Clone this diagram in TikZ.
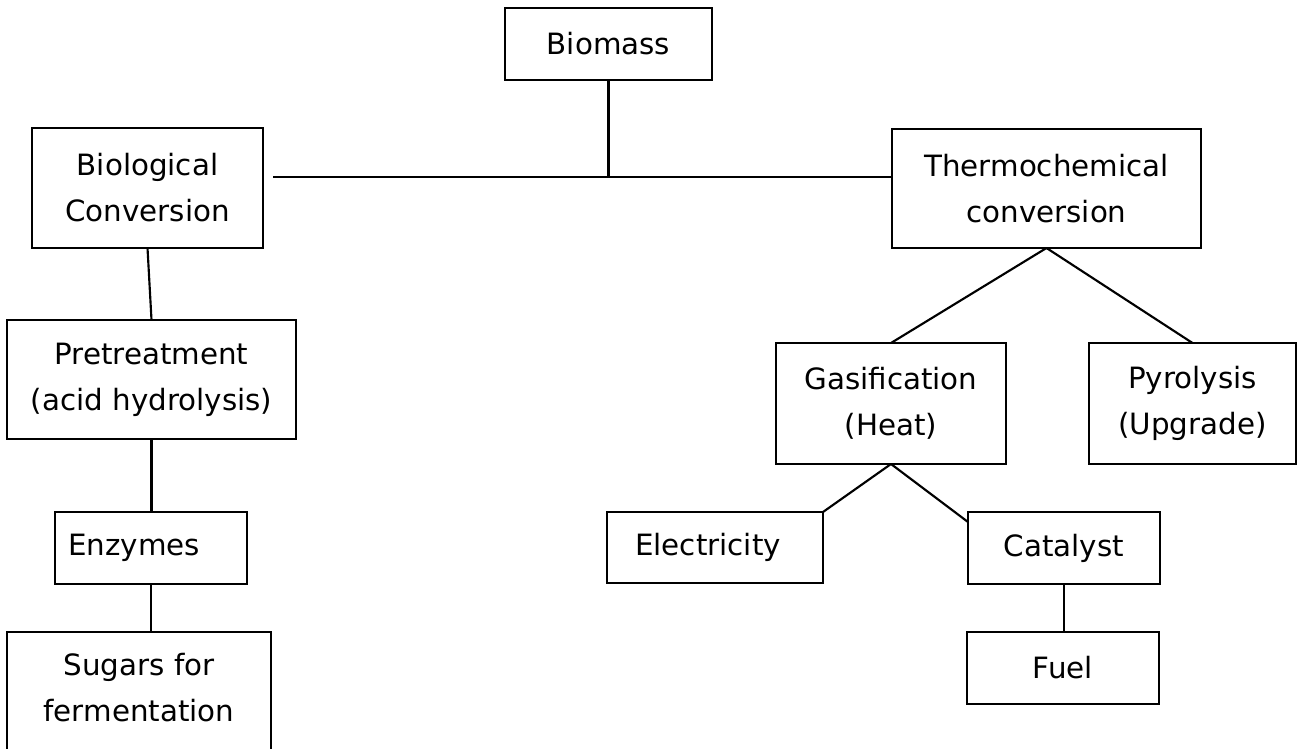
\documentclass[tikz,border=0pt]{standalone}
\usepackage{fontspec}
\setmainfont{DejaVu Sans}
\usetikzlibrary{calc}
\begin{document}
\begin{tikzpicture}[x=0.75pt,y=-0.75pt,
  box/.style={draw, line width=2.1pt, inner sep=0pt, outer sep=0pt, align=center,
    font=\fontsize{22}{34.5}\selectfont},
  link/.style={line width=1.6pt}]
\useasboundingbox (0,0) rectangle (1299,749);
\clip (0,0) rectangle (1299,749);

\node[box, minimum width=155.25pt, minimum height=54pt] (biomass) at (608.5,44) {Biomass};
\node[box, minimum width=173.25pt, minimum height=90pt] (bio) at (147.5,188) {Biological\\Conversion};
\node[box, minimum width=231.75pt, minimum height=89.25pt] (thermo) at (1046.5,188.5) {Thermochemical\\conversion};
\node[box, minimum width=216.75pt, minimum height=89.25pt] (pre) at (151.5,379.5) {Pretreatment\\(acid hydrolysis)};
\node[box, minimum width=172.5pt, minimum height=90.75pt] (gas) at (891,403.5) {Gasification\hspace{9pt}\\(Heat)};
\node[box, minimum width=155.25pt, minimum height=90.75pt] (pyro) at (1192.5,403.5) {Pyrolysis\hspace{25pt}\\(Upgrade)};
\node[box, minimum width=144pt, minimum height=54pt] (enz) at (151,548) {Enzymes\hspace{25.5pt}};
\node[box, minimum width=162pt, minimum height=53.25pt] (elec) at (715,547.5) {Electricity\hspace{10.5pt}};
\node[box, minimum width=144pt, minimum height=54pt] (cat) at (1064,548) {Catalyst};
\node[box, minimum width=144pt, minimum height=54pt] (fuel) at (1063,668) {Fuel};
\node[box, minimum width=198pt, minimum height=103.5pt, text depth=21pt] (sugars) at (139,701) {Sugars for\\fermentation};

\coordinate (hl) at (273,177);
\draw[link] (biomass.south) -- (biomass.south |- hl);
\draw[link] (hl) -- (hl -| thermo.west);
\draw[link] (bio.south) -- (pre.north);
\draw[link] (pre.south) -- (pre.south |- enz.north);
\draw[link] (enz.south) -- (enz.south |- sugars.north);
\draw[link] (thermo.south) -- (gas.north);
\draw[link] (thermo.south) -- (pyro.north);
\draw[link] (gas.south) -- (elec.north east);
\draw[link] (gas.south) -- ($(cat.north west)+(0,10)$);
\draw[link] (cat.south) -- (cat.south |- fuel.north);
\end{tikzpicture}
\end{document}
